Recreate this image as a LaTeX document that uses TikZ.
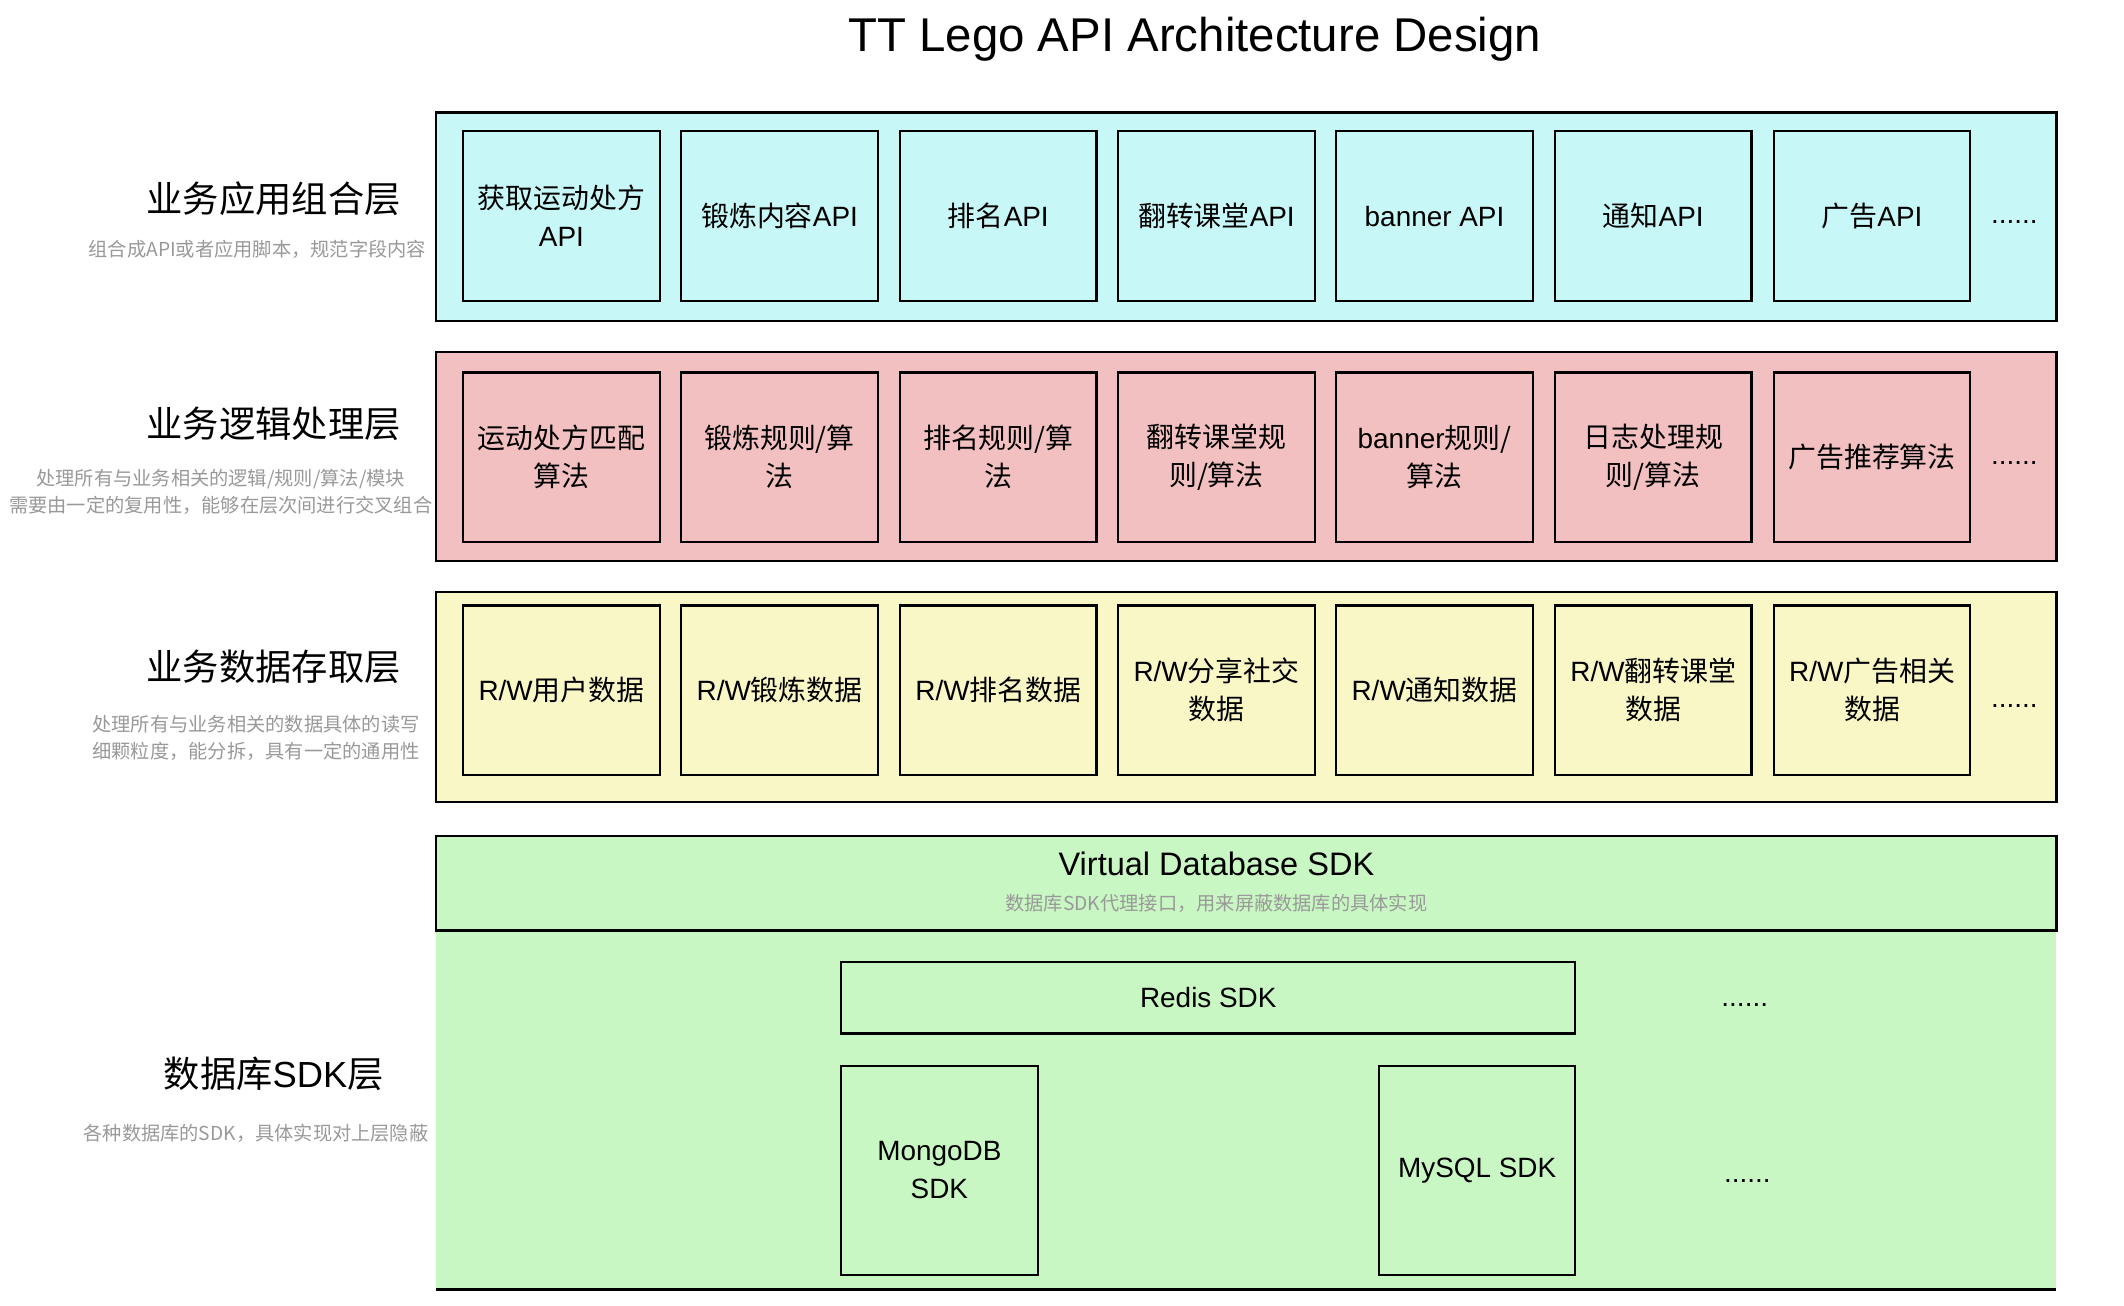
\documentclass[tikz,border=0pt]{standalone}
\usepackage{fontspec}
\setmainfont{Noto Sans CJK SC}
\newfontfamily\en{Liberation Sans}
\usepackage{xcolor,tikz}

\tikzset{
  layer/.style={draw=black, line width=0.9pt},
  cell/.style={draw=black, line width=0.8pt, minimum width=72.5pt, minimum height=62.5pt,
    inner sep=0pt, align=center, font=\fontsize{10.3}{14}\selectfont},
  more/.style={inner sep=0pt, font=\en\fontsize{10.3}{12}\selectfont},
  heading/.style={inner sep=0pt, font=\fontsize{13.4}{16}\selectfont},
  note/.style={inner sep=0pt, align=center, text=noteColor, font=\fontsize{7.1}{10}\selectfont}
}

\begin{document}
\begin{tikzpicture}[x=0.5pt,y=-0.5pt]
\definecolor{noteColor}{RGB}{153,153,153}
\definecolor{cyanFill}{RGB}{200,247,247}
\definecolor{pinkFill}{RGB}{242,192,192}
\definecolor{yellowFill}{RGB}{250,247,198}
\definecolor{greenFill}{RGB}{201,247,195}
\path[use as bounding box,fill=white] (0,0) rectangle (1568,964);

\node[inner sep=0pt, font=\en\fontsize{17.5}{20}\selectfont] (title) at (882,29) {TT Lego API Architecture Design};

% application layer
\path[layer,fill=cyanFill] (322,83) rectangle (1518,237);
\node[cell,fill=cyanFill] (api1) at ( 414.5,159.5) {获取运动处方\\\en API};
\node[cell,fill=cyanFill] (api2) at ( 575.5,159.5) {锻炼内容{\en API}};
\node[cell,fill=cyanFill] (api3) at ( 737.0,159.5) {排名{\en API}};
\node[cell,fill=cyanFill] (api4) at ( 898.0,159.5) {翻转课堂{\en API}};
\node[cell,fill=cyanFill] (api5) at (1059.0,159.5) {\en banner API};
\node[cell,fill=cyanFill] (api6) at (1220.5,159.5) {通知{\en API}};
\node[cell,fill=cyanFill] (api7) at (1382.0,159.5) {广告{\en API}};
\node[more] (apiMore) at (1487,164) {......};

\node[heading] (appHead) at (202,147) {业务应用组合层};
\node[note] (appNote) at (190,184) {组合成API或者应用脚本，规范字段内容};

% logic layer
\path[layer,fill=pinkFill] (322,260) rectangle (1518,414);
\node[cell,fill=pinkFill] (rule1) at ( 414.5,337.5) {运动处方匹配\\算法};
\node[cell,fill=pinkFill] (rule2) at ( 575.5,337.5) {锻炼规则/算\\法};
\node[cell,fill=pinkFill] (rule3) at ( 737.0,337.5) {排名规则/算\\法};
\node[cell,fill=pinkFill] (rule4) at ( 898.0,337.5) {翻转课堂规\\则/算法};
\node[cell,fill=pinkFill] (rule5) at (1059.0,337.5) {{\en banner}规则/\\算法};
\node[cell,fill=pinkFill] (rule6) at (1220.5,337.5) {日志处理规\\则/算法};
\node[cell,fill=pinkFill] (rule7) at (1382.0,337.5) {广告推荐算法};
\node[more] (ruleMore) at (1487,342) {......};

\node[heading] (ruleHead) at (202,313) {业务逻辑处理层};
\node[note] (ruleNote) at (163,363) {处理所有与业务相关的逻辑/规则/算法/模块\\需要由一定的复用性，能够在层次间进行交叉组合};

% data access layer
\path[layer,fill=yellowFill] (322,437) rectangle (1518,592);
\node[cell,fill=yellowFill] (rw1) at ( 414.5,509.5) {{\en R/W}用户数据};
\node[cell,fill=yellowFill] (rw2) at ( 575.5,509.5) {{\en R/W}锻炼数据};
\node[cell,fill=yellowFill] (rw3) at ( 737.0,509.5) {{\en R/W}排名数据};
\node[cell,fill=yellowFill] (rw4) at ( 898.0,509.5) {{\en R/W}分享社交\\数据};
\node[cell,fill=yellowFill] (rw5) at (1059.0,509.5) {{\en R/W}通知数据};
\node[cell,fill=yellowFill] (rw6) at (1220.5,509.5) {{\en R/W}翻转课堂\\数据};
\node[cell,fill=yellowFill] (rw7) at (1382.0,509.5) {{\en R/W}广告相关\\数据};
\node[more] (rwMore) at (1487,521) {......};

\node[heading] (rwHead) at (202,492) {业务数据存取层};
\node[note] (rwNote) at (189,545) {处理所有与业务相关的数据具体的读写\\细颗粒度，能分拆，具有一定的通用性};

% sdk layer
\path[fill=greenFill] (322,687) rectangle (1518,952);
\path[draw=black,line width=0.9pt] (322,952) -- (1518,952);
\path[layer,fill=greenFill] (322,617) rectangle (1518,687);
\node[inner sep=0pt, font=\en\fontsize{12}{14}\selectfont] (vdb) at (898,638) {Virtual Database SDK};
\node[note] (vdbNote) at (898,667) {数据库SDK代理接口，用来屏蔽数据库的具体实现};

\node[cell,fill=greenFill,minimum width=271pt,minimum height=26.5pt] (redis) at (892,736.5) {\en Redis SDK};
\node[cell,fill=greenFill,minimum height=77pt] (mongo) at (693.5,864) {\en MongoDB\\\en SDK};
\node[cell,fill=greenFill,minimum height=77pt] (mysql) at (1090.5,864) {\en MySQL SDK};
\node[more] (redisMore) at (1288,742) {......};
\node[more] (mysqlMore) at (1290,872) {......};

\node[heading] (sdkHead) at (202,793) {数据库{\en SDK}层};
\node[note] (sdkNote) at (189,837) {各种数据库的SDK，具体实现对上层隐蔽};
\end{tikzpicture}
\end{document}
